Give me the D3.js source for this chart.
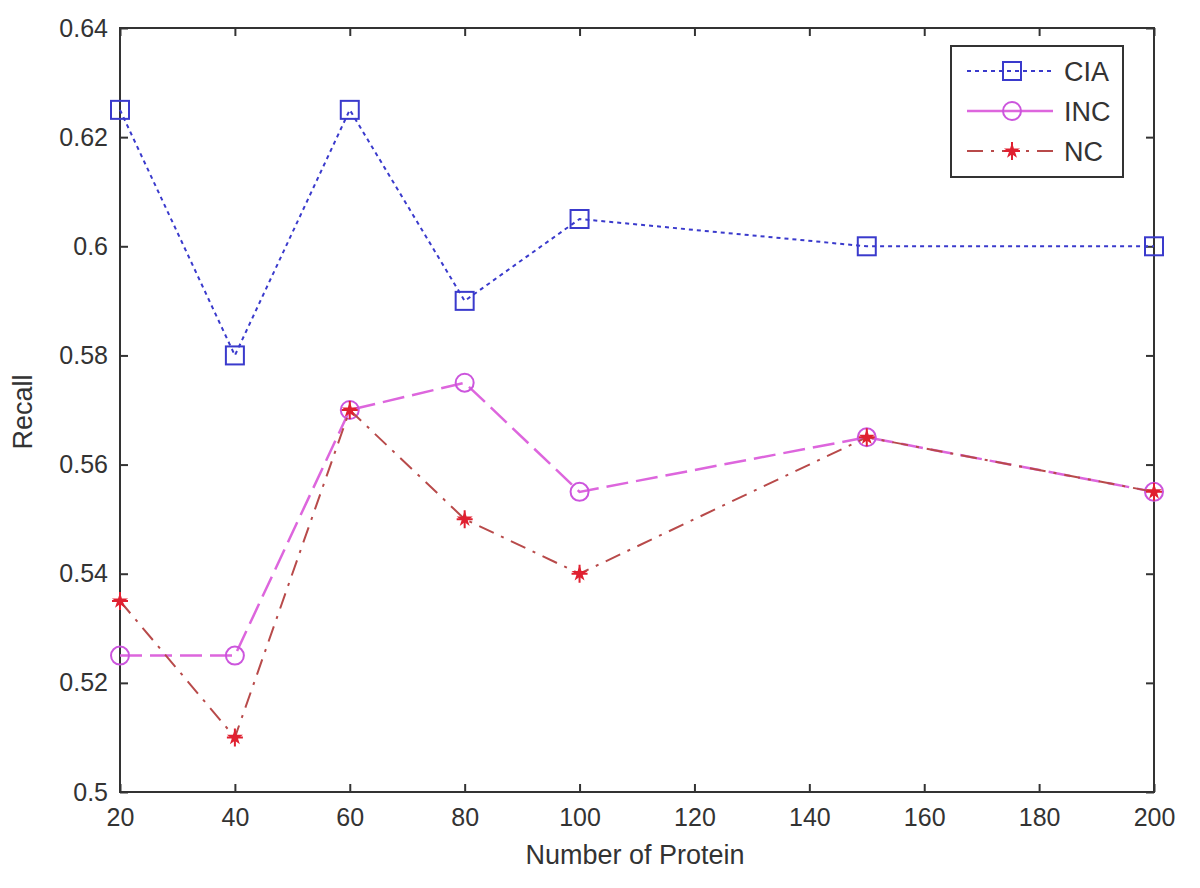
<!DOCTYPE html>
<html><head><meta charset="utf-8">
<script src="https://cdn.jsdelivr.net/npm/d3@7/dist/d3.min.js"></script>
<style>body{margin:0;background:#fff}svg{display:block}text{font-family:"Liberation Sans",Arial,sans-serif;fill:#333}</style>
</head><body>
<script>
const xValues = [20, 40, 60, 80, 100, 150, 200];
const ciaValues = [0.625, 0.58, 0.625, 0.59, 0.605, 0.60, 0.60];
const incValues = [0.525, 0.525, 0.57, 0.575, 0.555, 0.565, 0.555];
const ncValues  = [0.535, 0.51, 0.57, 0.55, 0.54, 0.565, 0.555];
const xTicks = [20, 40, 60, 80, 100, 120, 140, 160, 180, 200];
const yTicks = [0.5, 0.52, 0.54, 0.56, 0.58, 0.6, 0.62, 0.64];
const seriesNames = ["CIA", "INC", "NC"];

const W = 1200, H = 888;
const L = 120, R = 1154, T = 28, B = 792;
const svg = d3.select("body").append("svg").attr("width", W).attr("height", H);
const x = d3.scaleLinear().domain([20, 200]).range([L, R]);
const y = d3.scaleLinear().domain([0.5, 0.64]).range([B, T]);

const axisColor = "#333";
const tl = 8;
svg.append("rect").attr("x", L).attr("y", T).attr("width", R - L).attr("height", B - T)
  .attr("fill", "none").attr("stroke", axisColor).attr("stroke-width", 2);

const fmtY = d => String(+d.toFixed(2));
const gx = svg.append("g").attr("transform", `translate(0,${B})`)
  .call(d3.axisBottom(x).tickValues(xTicks).tickSize(-tl).tickPadding(16));
const gxt = svg.append("g").attr("transform", `translate(0,${T})`)
  .call(d3.axisTop(x).tickValues(xTicks).tickSize(-tl).tickFormat(""));
const gy = svg.append("g").attr("transform", `translate(${L},0)`)
  .call(d3.axisLeft(y).tickValues(yTicks).tickSize(-tl).tickPadding(12).tickFormat(fmtY));
const gyr = svg.append("g").attr("transform", `translate(${R},0)`)
  .call(d3.axisRight(y).tickValues(yTicks).tickSize(-tl).tickFormat(""));
[gx, gxt, gy, gyr].forEach(g => {
  g.select(".domain").remove();
  g.selectAll(".tick line").attr("stroke", axisColor).attr("stroke-width", 2);
  g.selectAll(".tick text").attr("font-size", 25).attr("fill", "#333")
    .style("font-family", '"Liberation Sans",Arial,sans-serif');
});

svg.append("text").attr("x", 635).attr("y", 864).attr("text-anchor", "middle")
  .attr("font-size", 27).text("Number of Protein");
svg.append("text").attr("transform", `translate(32,${(T + B) / 2 + 2}) rotate(-90)`)
  .attr("text-anchor", "middle").attr("font-size", 27).text("Recall");

const styles = {
  CIA: {color: "#3a3acc", dash: "4,4", width: 2, marker: "square"},
  INC: {color: "#dd66dd", dash: "22,8", width: 2.5, marker: "circle"},
  NC:  {color: "#b84a4a", dash: "16,8,3,8", width: 2, marker: "star"}
};
const dataMap = {CIA: ciaValues, INC: incValues, NC: ncValues};
const line = d3.line().x(d => x(d[0])).y(d => y(d[1]));

function drawMarker(g, type, cx, cy, color) {
  if (type === "square") {
    g.append("rect").attr("x", cx - 9).attr("y", cy - 9).attr("width", 18).attr("height", 18)
      .attr("fill", "none").attr("stroke", color).attr("stroke-width", 2);
  } else if (type === "circle") {
    g.append("circle").attr("cx", cx).attr("cy", cy).attr("r", 9)
      .attr("fill", "none").attr("stroke", "#cc55dd").attr("stroke-width", 2);
  } else {
    g.append("path").attr("d", d3.symbol(d3.symbolStar, 80)())
      .attr("transform", `translate(${cx},${cy})`).attr("fill", "#e02030");
    g.append("path").attr("d", `M${cx-8},${cy}H${cx+8}M${cx},${cy-9}V${cy+9}`)
      .attr("stroke", "#e02030").attr("stroke-width", 2);
  }
}

["INC", "NC", "CIA"].forEach(name => {
  const st = styles[name];
  const pts = xValues.map((v, i) => [v, dataMap[name][i]]);
  svg.append("path").datum(pts).attr("d", line).attr("fill", "none")
    .attr("stroke", st.color).attr("stroke-width", st.width).attr("stroke-dasharray", st.dash);
  const g = svg.append("g");
  pts.forEach(p => drawMarker(g, st.marker, x(p[0]), y(p[1]), st.color));
});

const lg = svg.append("g");
lg.append("rect").attr("x", 951).attr("y", 46).attr("width", 172).attr("height", 131)
  .attr("fill", "#fff").attr("stroke", axisColor).attr("stroke-width", 2);
seriesNames.forEach((name, i) => {
  const st = styles[name];
  const ly = 71 + i * 40;
  lg.append("line").attr("x1", 967).attr("x2", 1053).attr("y1", ly).attr("y2", ly)
    .attr("stroke", st.color).attr("stroke-width", st.width)
    .attr("stroke-dasharray", name === "INC" ? "none" : st.dash);
  drawMarker(lg, st.marker, 1012, ly, st.color);
  lg.append("text").attr("x", 1064).attr("y", ly + 10).attr("font-size", 27).text(name);
});
</script>
</body></html>
